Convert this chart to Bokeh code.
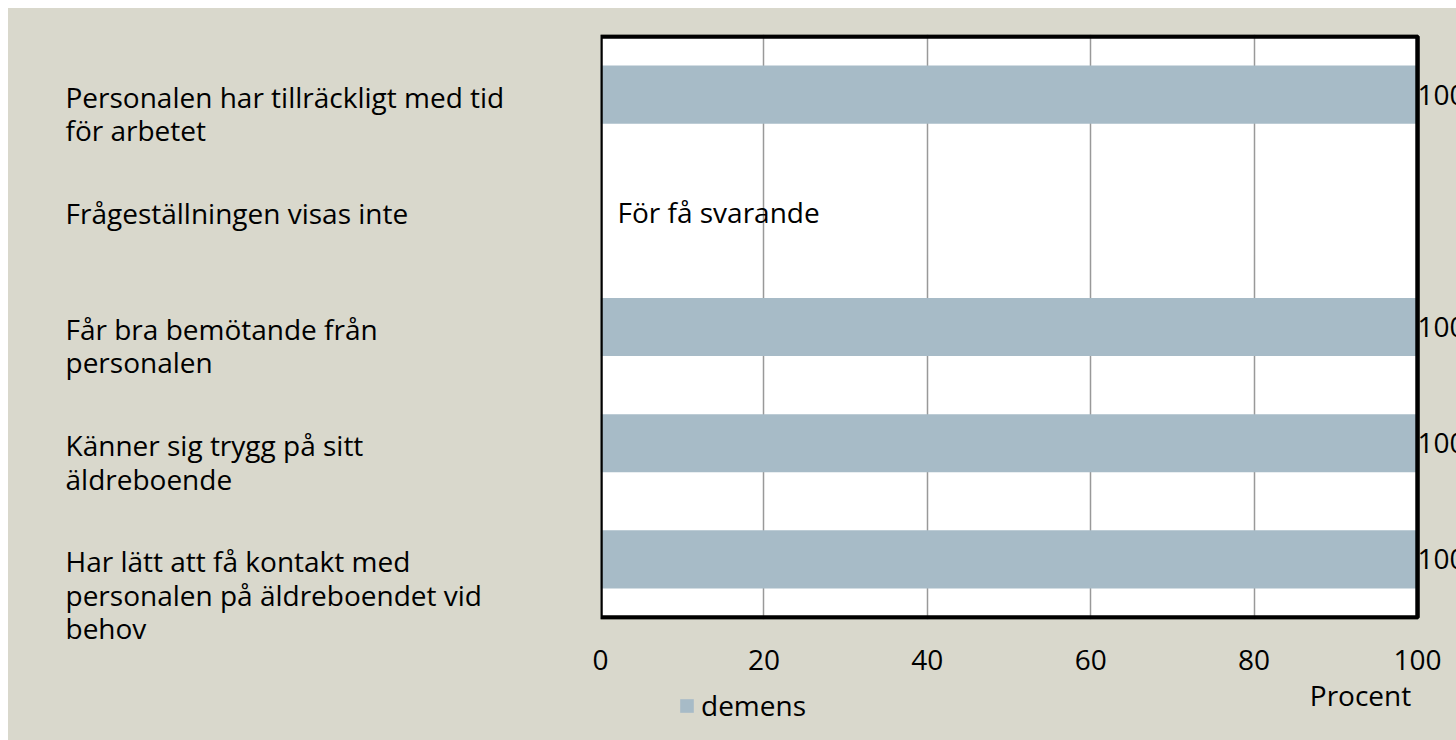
from bokeh.plotting import figure
from bokeh.models import (ColumnDataSource, Label, FactorRange, Range1d, FixedTicker,
                          BoxAnnotation)
from bokeh.layouts import row, column
from bokeh.core.properties import value
from bokeh.embed import file_html
from bokeh.resources import INLINE

categories = [
    "Personalen har tillräckligt med tid\nför arbetet",
    "Frågeställningen visas inte",
    "Får bra bemötande från\npersonalen",
    "Känner sig trygg på sitt\näldreboende",
    "Har lätt att få kontakt med\npersonalen på äldreboendet vid\nbehov",
]
values = [100, float("nan"), 100, 100, 100]
series_name = "demens"
missing_note = "För få svarande"
x_ticks = [0, 20, 40, 60, 80, 100]
x_label = "Procent"

BG = "#D9D8CC"
BAR = "#A7BBC7"
GRID = "#999999"
FONT = "Open Sans"
FS = "28px"
X_END = 104.77  # extra room right of the plot box for the value labels
BGSTYLE = {"background-color": BG}

factors = list(reversed(categories))

# ---------- left: category labels ----------
A = figure(width=582, height=732, output_backend="svg", toolbar_location=None,
           x_range=Range1d(0, 1),
           y_range=FactorRange(factors=factors, range_padding=0.241,
                               range_padding_units="absolute"),
           min_border_left=0, min_border_right=0, min_border_top=0,
           min_border_bottom=95, styles=BGSTYLE)
A.background_fill_color = BG
A.border_fill_color = BG
A.outline_line_color = None
A.axis.visible = False
A.grid.visible = False
A.text(x=[0] * len(categories), y=categories, text=categories, x_offset=57, y_offset=-17,
       text_baseline="top", text_align="left", text_font=value(FONT),
       text_font_size=FS, text_line_height=0.88, text_color="black")

# ---------- main chart ----------
B = figure(frame_width=856, frame_height=585, output_backend="svg", toolbar_location=None,
           x_range=Range1d(0, X_END),
           y_range=FactorRange(factors=factors, range_padding=0.0172,
                               range_padding_units="absolute"),
           min_border_left=10, min_border_right=0, min_border_top=26,
           min_border_bottom=58, styles=BGSTYLE)
B.background_fill_color = BG
B.border_fill_color = BG
B.outline_line_color = None

# white plot area and black border
B.add_layout(BoxAnnotation(left=x_ticks[0], right=x_ticks[-1], bottom=0, top=len(categories),
                           fill_color="white", fill_alpha=1, line_color=None, level="image"))
B.add_layout(BoxAnnotation(left=x_ticks[0], right=x_ticks[-1], bottom=0, top=len(categories),
                           fill_alpha=0, line_color="black", line_alpha=1, line_width=4.5,
                           level="overlay"))

bars = [(c, v) for c, v in zip(categories, values) if v == v]
src = ColumnDataSource(dict(cat=[b[0] for b in bars], val=[b[1] for b in bars],
                            lbl=["%d" % b[1] for b in bars]))
B.hbar(y="cat", left=0, right="val", height=0.5, source=src,
       fill_color=BAR, line_color=None)
B.text(x="val", y="cat", text="lbl", source=src, x_offset=0, text_baseline="middle",
       text_font=value(FONT), text_font_size=FS, text_color="black")

miss = [c for c, v in zip(categories, values) if v != v]
B.text(x=[x_ticks[0]] * len(miss), y=miss, text=[missing_note] * len(miss),
       x_offset=17, y_offset=1, text_baseline="middle", text_font=value(FONT),
       text_font_size=FS, text_color="black")

B.yaxis.visible = False
B.ygrid.visible = False
B.xgrid.grid_line_color = GRID
B.xgrid.grid_line_width = 1.5
B.xaxis.ticker = FixedTicker(ticks=x_ticks)
B.xaxis.axis_line_color = None
B.xaxis.major_tick_line_color = None
B.xaxis.minor_tick_line_color = None
B.xaxis.major_tick_out = 0
B.xaxis.major_tick_in = 0
B.xaxis.major_label_standoff = 30
B.xaxis.major_label_text_font = FONT
B.xaxis.major_label_text_font_size = FS
B.xaxis.major_label_text_color = "black"

# ---------- bottom strip: legend and axis title ----------
D = figure(width=866, height=63, output_backend="svg", toolbar_location=None,
           min_border_left=0, min_border_right=0, min_border_top=0, min_border_bottom=0,
           styles=BGSTYLE)
D.background_fill_color = BG
D.border_fill_color = BG
D.outline_line_color = None
D.axis.visible = False
D.grid.visible = False
# legend proxy for the series (no visible mark: NaN length)
D.hbar(y=[0], left=[0], right=[float("nan")], height=0.5, fill_color=BAR, line_color=None,
       legend_label=series_name)
D.legend.location = (78, 16)
D.legend.background_fill_alpha = 0
D.legend.border_line_color = None
D.legend.padding = 0
D.legend.margin = 0
D.legend.glyph_width = 17
D.legend.glyph_height = 17
D.legend.label_standoff = 6
D.legend.label_text_font = FONT
D.legend.label_text_font_size = FS
D.legend.label_text_color = "black"
D.add_layout(Label(x=760, y=46, x_units="screen", y_units="screen", text=x_label,
                   text_align="center", text_baseline="middle", text_font=FONT,
                   text_font_size=FS, text_color="black"))

layout = row(A, column(B, D, spacing=0, styles=BGSTYLE), spacing=0, styles=BGSTYLE)
layout.margin = (8, 0, 0, 8)

open("out.html", "w").write(file_html(layout, INLINE))
